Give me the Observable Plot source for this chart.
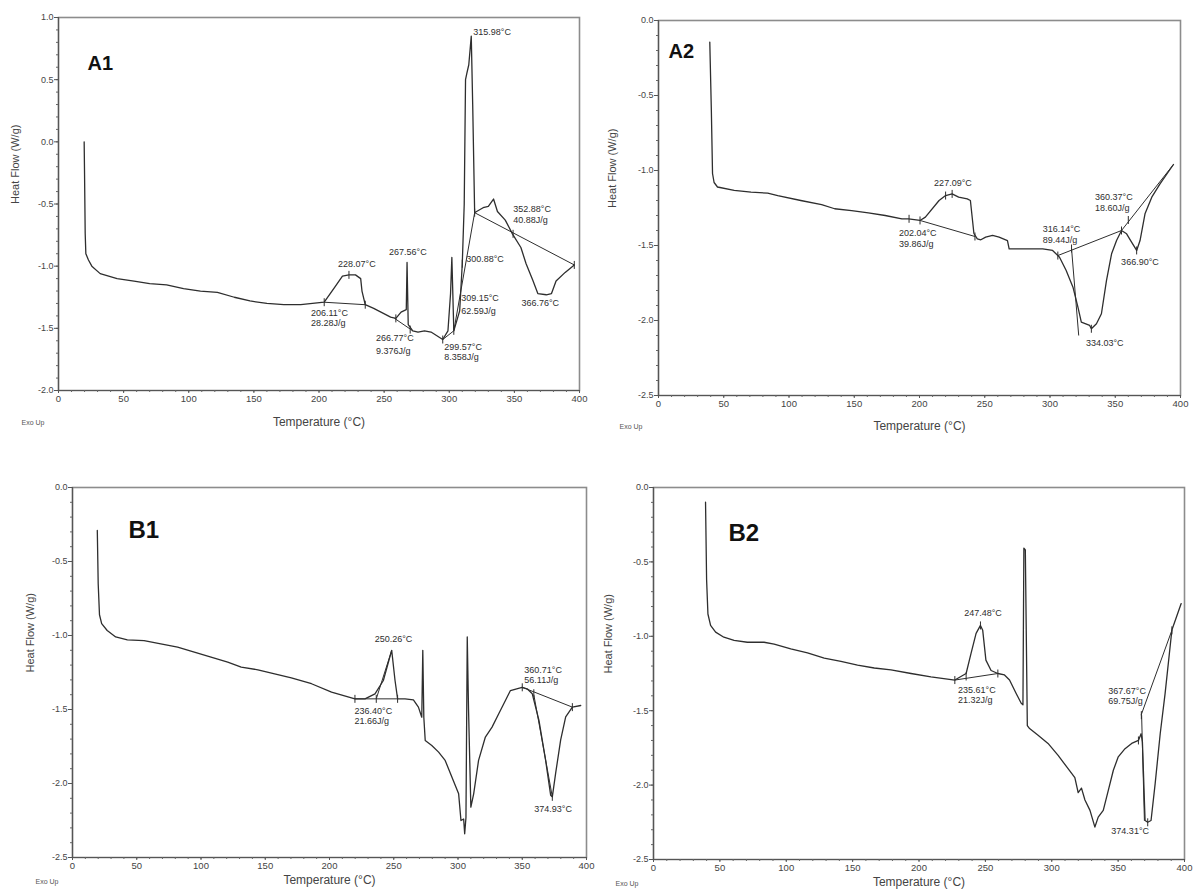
<!DOCTYPE html>
<html><head><meta charset="utf-8">
<script src="https://cdn.jsdelivr.net/npm/d3@7"></script>
<script src="https://cdn.jsdelivr.net/npm/@observablehq/plot@0.6"></script>
<style>
body{margin:0;background:#fff;}
#root{position:relative;width:1197px;height:895px;overflow:hidden;background:#fff;}
.panel{position:absolute;}
</style></head><body><div id="root"></div>
<script>
const FONT = '"Liberation Sans", Arial, sans-serif';
const xTicks = [0, 50, 100, 150, 200, 250, 300, 350, 400];
const a1YTicks = [1.0, 0.5, 0.0, -0.5, -1.0, -1.5, -2.0];
const a2YTicks = [0.0, -0.5, -1.0, -1.5, -2.0, -2.5];
const bYTicks = [0.0, -0.5, -1.0, -1.5, -2.0, -2.5];

// [temperature °C, heat flow W/g]
const a1Curve = [[19.7,0.0],[20,-0.26],[20.5,-0.74],[21,-0.9],[23,-0.95],[25.6,-1.0],[32,-1.06],[45,-1.1],[58,-1.12],[70,-1.14],[83,-1.15],[96,-1.18],[109,-1.2],[122,-1.21],[135,-1.25],[147,-1.28],[160,-1.3],[173,-1.31],[186,-1.31],[195,-1.3],[204,-1.29],[212,-1.17],[218,-1.08],[223,-1.07],[228,-1.07],[232,-1.1],[233,-1.2],[235.5,-1.31],[242,-1.34],[255,-1.41],[259,-1.42],[263,-1.37],[267,-1.35],[267.6,-0.97],[268.5,-1.47],[272,-1.52],[276,-1.53],[281,-1.52],[286,-1.53],[295,-1.59],[299,-1.52],[301,-1.22],[302,-0.93],[303.5,-1.52],[308,-1.36],[310,-0.98],[311.5,-0.5],[312.5,0.5],[313.5,0.55],[315,0.62],[316.9,0.85],[318,0.3],[319.5,-0.57],[321,-0.56],[326,-0.53],[330,-0.52],[334,-0.46],[337,-0.56],[343,-0.63],[348.5,-0.74],[355,-0.85],[359,-0.98],[364,-1.11],[368,-1.22],[374.5,-1.23],[378.5,-1.22],[382,-1.12],[389,-1.05],[396,-0.99]];
const a1Lines = [[204,-1.29,235.5,-1.31],[258,-1.42,272,-1.52],[295,-1.59,303.5,-1.52],[303.5,-1.52,319.5,-0.57],[319.5,-0.57,396,-0.99]];
const a1Marks = [[204,-1.29],[235.5,-1.31],[223,-1.07],[259,-1.42],[270,-1.51],[295,-1.59],[303.5,-1.52],[310,-0.98],[319.5,-0.57],[349,-0.74],[396,-0.99]];
const a1Labels = [[318.5,0.88,"315.98°C"],[214.6,-0.98,"228.07°C"],[253.8,-0.89,"267.56°C"],[193.8,-1.38,"206.11°C"],[193.8,-1.46,"28.28J/g"],[243.8,-1.58,"266.77°C"],[243.8,-1.68,"9.376J/g"],[313,-0.94,"300.88°C"],[309.2,-1.26,"309.15°C"],[309.2,-1.36,"62.59J/g"],[296.2,-1.65,"299.57°C"],[296.2,-1.73,"8.358J/g"],[349.2,-0.54,"352.88°C"],[349.2,-0.63,"40.88J/g"],[355.4,-1.30,"366.76°C"]];

const a2Curve = [[39.3,-0.144],[40.5,-0.6],[41.4,-1.02],[42.6,-1.08],[45.2,-1.11],[58,-1.133],[70.9,-1.144],[83.7,-1.151],[91.4,-1.167],[109,-1.2],[125,-1.227],[135,-1.255],[148,-1.267],[160.8,-1.282],[173.7,-1.3],[186.5,-1.322],[191.6,-1.322],[200.4,-1.333],[204.5,-1.311],[215,-1.2],[220,-1.167],[225,-1.156],[230,-1.178],[236.6,-1.189],[239,-1.2],[241.7,-1.42],[244.3,-1.456],[247,-1.462],[250.7,-1.444],[256,-1.433],[261,-1.444],[267.4,-1.467],[268.7,-1.522],[281.5,-1.522],[294.4,-1.522],[302,-1.533],[307.3,-1.578],[312.4,-1.667],[317.6,-1.778],[321.4,-1.911],[324,-2.011],[330.4,-2.033],[331.7,-2.055],[335.6,-2.022],[339.4,-1.955],[343.3,-1.733],[347.2,-1.555],[351,-1.467],[354.8,-1.4],[358.7,-1.422],[361.8,-1.467],[366.4,-1.533],[369,-1.467],[372.8,-1.289],[378,-1.178],[384.3,-1.089],[394.6,-0.96]];
const a2Lines = [[200.4,-1.333,242.5,-1.44],[306,-1.567,354.8,-1.4],[316.5,-1.52,322,-2.1],[354.8,-1.4,394.6,-0.96]];
const a2Marks = [[192,-1.322],[200.4,-1.333],[220,-1.167],[225,-1.156],[242.5,-1.44],[306,-1.567],[316.5,-1.52],[354.8,-1.4],[360,-1.33],[366.4,-1.533],[331.7,-2.055]];
const a2Labels = [[211.2,-1.087,"227.09°C"],[184.2,-1.42,"202.04°C"],[184.2,-1.493,"39.86J/g"],[294.4,-1.393,"316.14°C"],[294.4,-1.467,"89.44J/g"],[334.5,-1.18,"360.37°C"],[334.5,-1.253,"18.60J/g"],[354.5,-1.613,"366.90°C"],[327.5,-2.153,"334.03°C"]];

const b1Curve = [[19.3,-0.29],[20,-0.65],[21,-0.86],[22.7,-0.92],[27,-0.966],[33.6,-1.01],[42.7,-1.03],[55.7,-1.034],[68.7,-1.056],[81.8,-1.079],[94.8,-1.113],[107.8,-1.146],[120.8,-1.18],[131.3,-1.214],[144.3,-1.232],[157.3,-1.259],[170.3,-1.286],[186,-1.326],[201.6,-1.383],[219.8,-1.428],[227.6,-1.428],[235.4,-1.394],[241.9,-1.304],[248.4,-1.1],[251,-1.304],[253,-1.428],[258.8,-1.428],[265.3,-1.435],[269.2,-1.484],[271.8,-1.552],[272.6,-1.1],[273.4,-1.552],[274.5,-1.71],[279.6,-1.743],[284.9,-1.788],[290,-1.844],[295.3,-1.957],[300.5,-2.07],[302.3,-2.25],[304.4,-2.24],[305.2,-2.34],[306.2,-2.23],[307.2,-1.01],[308.2,-1.5],[310,-2.16],[312.2,-2.07],[316,-1.844],[321.3,-1.686],[326.5,-1.619],[331.7,-1.529],[336.9,-1.439],[340.8,-1.372],[349.9,-1.35],[353.8,-1.36],[357.8,-1.394],[363,-1.574],[368.2,-1.844],[372.1,-2.079],[373.4,-2.09],[376,-1.93],[379.9,-1.705],[383.8,-1.55],[389,-1.484],[395.5,-1.473]];
const b1Lines = [[219.8,-1.428,253,-1.428],[236.4,-1.428,248.4,-1.1],[350,-1.35,389,-1.484],[359,-1.4,373.4,-2.09]];
const b1Marks = [[219.8,-1.428],[236.4,-1.428],[253,-1.428],[350,-1.35],[359,-1.39],[389,-1.484],[373.4,-2.09]];
const b1Labels = [[235.2,-1.027,"250.26°C"],[219.5,-1.514,"236.40°C"],[219.5,-1.581,"21.66J/g"],[351.6,-1.236,"360.71°C"],[351.6,-1.304,"56.11J/g"],[359.4,-2.176,"374.93°C"]];

const b2Curve = [[39.2,-0.099],[40,-0.62],[41,-0.85],[43,-0.927],[46.8,-0.972],[53,-1.006],[60.7,-1.028],[70.7,-1.04],[83.3,-1.04],[90.9,-1.052],[103.4,-1.085],[116,-1.112],[128.6,-1.146],[141.2,-1.168],[153.7,-1.193],[166.3,-1.213],[178.9,-1.225],[194,-1.25],[209,-1.272],[227,-1.294],[235.5,-1.25],[239.2,-1.115],[243,-0.98],[246.3,-0.927],[248,-0.96],[250.4,-1.16],[254.3,-1.23],[259.4,-1.25],[264.4,-1.26],[268.2,-1.294],[273.2,-1.384],[277,-1.45],[278.3,-1.46],[279,-0.407],[280.1,-0.42],[281.6,-1.6],[283.3,-1.62],[289.7,-1.665],[297.2,-1.72],[304.8,-1.8],[312.3,-1.89],[317.4,-1.95],[319.9,-2.05],[322.4,-2.02],[325,-2.1],[328.8,-2.17],[332.5,-2.282],[335,-2.215],[338.8,-2.17],[342.6,-2.036],[346.4,-1.9],[350.1,-1.81],[355.2,-1.755],[360.2,-1.72],[365.3,-1.7],[367.3,-1.655],[368.3,-1.71],[370.3,-2.238],[372.3,-2.25],[374.8,-2.238],[377.9,-1.99],[381.7,-1.655],[385.4,-1.384],[390.5,-0.958],[397.5,-0.78]];
const b2Lines = [[227,-1.294,259.4,-1.25],[367.3,-1.53,390.5,-0.96],[367.7,-1.53,369.8,-2.24]];
const b2Marks = [[227,-1.294],[235.5,-1.27],[259.4,-1.25],[246.3,-0.927],[365.3,-1.7],[367.5,-1.53],[390.5,-0.96],[372.3,-2.25]];
const b2Labels = [[234,-0.847,"247.48°C"],[229.4,-1.364,"235.61°C"],[229.4,-1.431,"21.32J/g"],[342.6,-1.371,"367.67°C"],[342.6,-1.438,"69.75J/g"],[344.9,-2.312,"374.31°C"]];

const vbar = {draw(ctx, size) { const r = Math.sqrt(size / Math.PI); ctx.moveTo(0, -r); ctx.lineTo(0, r); }};

function panel(cfg) {
  const ink = "#2e2e2e";
  const yMin = cfg.yDomain[0];
  const p = Plot.plot({
    width: cfg.width, height: cfg.height,
    marginLeft: cfg.ml, marginRight: cfg.mr, marginTop: cfg.mt, marginBottom: cfg.mb,
    style: {fontFamily: FONT, background: "white", overflow: "visible", color: "#444"},
    x: {domain: [0, 400]},
    y: {domain: cfg.yDomain},
    marks: [
      Plot.frame({stroke: "#8c8c8c", strokeWidth: 1.6}),
      Plot.ruleX([0], {stroke: "#555", strokeWidth: 1.2}),
      Plot.ruleY([yMin], {stroke: "#555", strokeWidth: 1.2}),
      Plot.axisX({ticks: d3.range(0, 401, 10), tickSize: 2, fill: "none", stroke: "#666"}),
      Plot.axisX({ticks: xTicks, tickSize: 3, tickPadding: 2, fontSize: 9.5, fill: "#444", stroke: "#555", label: null}),
      Plot.axisY({ticks: d3.range(Math.round(yMin * 10), Math.round(cfg.yDomain[1] * 10) + 1).map(d => d / 10), tickSize: 2, fill: "none", stroke: "#666"}),
      Plot.axisY({ticks: cfg.yTicks, tickSize: 4, tickPadding: 1, tickFormat: d => d.toFixed(1), fontSize: 9, fill: "#444", stroke: "#555", label: null}),
      Plot.link(cfg.lines, {x1: d => d[0], y1: d => d[1], x2: d => d[2], y2: d => d[3], stroke: ink, strokeWidth: 1}),
      Plot.line(cfg.curve, {x: d => d[0], y: d => d[1], stroke: ink, strokeWidth: 1.3}),
      Plot.dot(cfg.marks, {x: d => d[0], y: d => d[1], symbol: vbar, r: 4, stroke: ink, fill: "none", strokeWidth: 1}),
      Plot.text(cfg.labels, {x: d => d[0], y: d => d[1], text: d => d[2], textAnchor: "start", fontSize: 9, fill: ink}),
      Plot.text([cfg.name], {frameAnchor: "top-left", dx: cfg.nameDx, dy: cfg.nameDy, lineAnchor: "top", textAnchor: "start", fontSize: cfg.nameSize, fontWeight: "bold", fill: "#111"}),
      Plot.text(["Heat Flow (W/g)"], {frameAnchor: "left", dx: cfg.yTitleDx, rotate: -90, fontSize: 11, fill: "#444"}),
      Plot.text(["Temperature (°C)"], {frameAnchor: "bottom", dy: cfg.xTitleDy, fontSize: 12, fill: "#444"}),
      Plot.text(["Exo Up"], {frameAnchor: "bottom-left", dx: cfg.exoDx, dy: cfg.exoDy, textAnchor: "start", fontSize: 7, fill: "#555"})
    ]
  });
  p.classList.add("panel");
  p.style.left = cfg.left + "px";
  p.style.top = cfg.top + "px";
  document.getElementById("root").appendChild(p);
}

panel({name: "A1", nameSize: 20, nameDx: 29, nameDy: 38, curve: a1Curve, lines: a1Lines, marks: a1Marks, labels: a1Labels,
  yDomain: [-2, 1], yTicks: a1YTicks, left: 0, top: 0, width: 598, height: 440, ml: 58, mr: 19, mt: 17, mb: 50,
  yTitleDx: -43, xTitleDy: 35, exoDx: -37, exoDy: 34});
panel({name: "A2", nameSize: 20, nameDx: 10, nameDy: 23, curve: a2Curve, lines: a2Lines, marks: a2Marks, labels: a2Labels,
  yDomain: [-2.5, 0], yTicks: a2YTicks, left: 600, top: 0, width: 597, height: 440, ml: 58, mr: 17, mt: 20, mb: 45,
  yTitleDx: -46, xTitleDy: 34, exoDx: -39, exoDy: 33});
panel({name: "B1", nameSize: 24, nameDx: 56, nameDy: 33, curve: b1Curve, lines: b1Lines, marks: b1Marks, labels: b1Labels,
  yDomain: [-2.5, 0], yTicks: bYTicks, left: 0, top: 440, width: 598, height: 455, ml: 72, mr: 12, mt: 47, mb: 38,
  yTitleDx: -42, xTitleDy: 26, exoDx: -37, exoDy: 26});
panel({name: "B2", nameSize: 24, nameDx: 75, nameDy: 36, curve: b2Curve, lines: b2Lines, marks: b2Marks, labels: b2Labels,
  yDomain: [-2.5, 0], yTicks: bYTicks, left: 600, top: 440, width: 597, height: 455, ml: 53, mr: 13, mt: 47, mb: 36,
  yTitleDx: -45, xTitleDy: 26, exoDx: -38, exoDy: 26});
</script></body></html>
